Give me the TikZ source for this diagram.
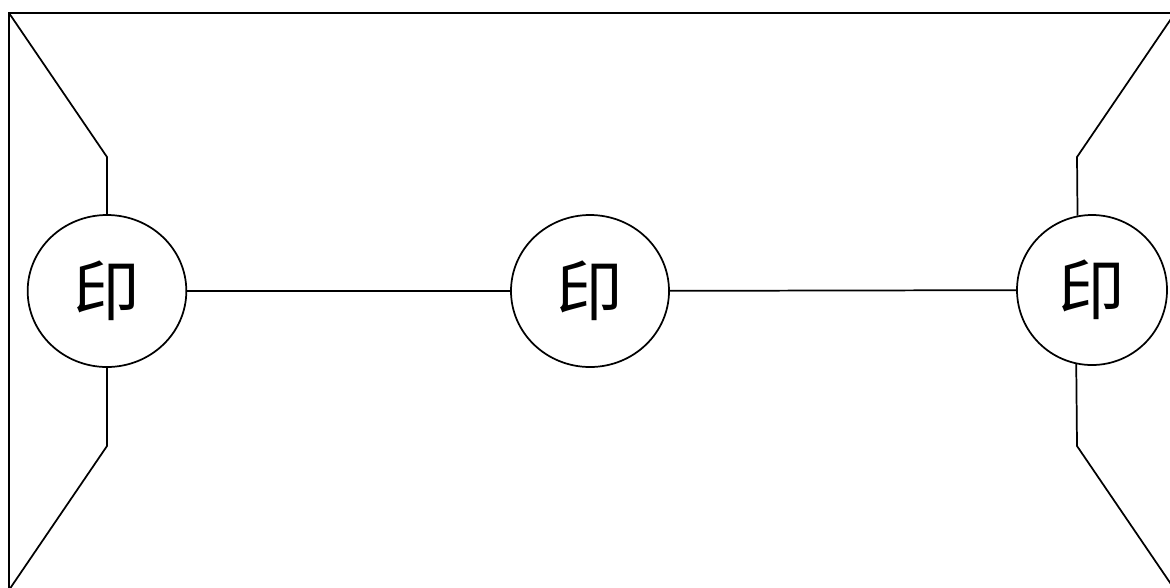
\documentclass[tikz,border=0pt]{standalone}
\usepackage{fontspec}
\newfontfamily\cjk{Noto Sans CJK SC}
\usetikzlibrary{shapes.geometric}
\tikzset{
  ln/.style={line width=1.3pt, black},
  seal/.style={ellipse, draw, line width=1.3pt, inner sep=0pt,
    font=\cjk\fontsize{50}{50}\selectfont, text depth=0pt},
}
\begin{document}
\begin{tikzpicture}[x=0.75pt,y=-0.75pt]
\useasboundingbox (0,0) rectangle (1170,587);
\clip (0,0) rectangle (1170,587);
% outer frame
\draw[ln] (9,13) rectangle (1175,590);
% circles
\node[seal, minimum width=119pt, minimum height=114pt] (lc) at (107,291) {\raisebox{4pt}{印}};
\node[seal, minimum width=118.5pt, minimum height=114pt] (mc) at (590,291) {\raisebox{4pt}{印}};
\node[seal, minimum width=112.5pt, minimum height=112.5pt] (rc) at (1092,290) {\raisebox{4pt}{印}};
% corner points
\coordinate (tl) at (9,13);
\coordinate (bl) at (9,590);
\coordinate (tr) at (1175,13);
\coordinate (br) at (1175,590);
\coordinate (ltk) at (107,157);
\coordinate (lbk) at (107,446);
\coordinate (rtk) at (1077,157);
\coordinate (rbk) at (1077,446);
% left trapezoid sides
\draw[ln] (tl) -- (ltk) -- (lc.north);
\draw[ln] (lc.south) -- (lbk) -- (bl);
% right trapezoid sides
\draw[ln] (tr) -- (rtk) -- (rc.101.5);
\draw[ln] (rc.258.5) -- (rbk) -- (br);
% horizontal connectors
\draw[ln] (lc) -- (mc);
\draw[ln] (mc) -- (rc);
\end{tikzpicture}
\end{document}
